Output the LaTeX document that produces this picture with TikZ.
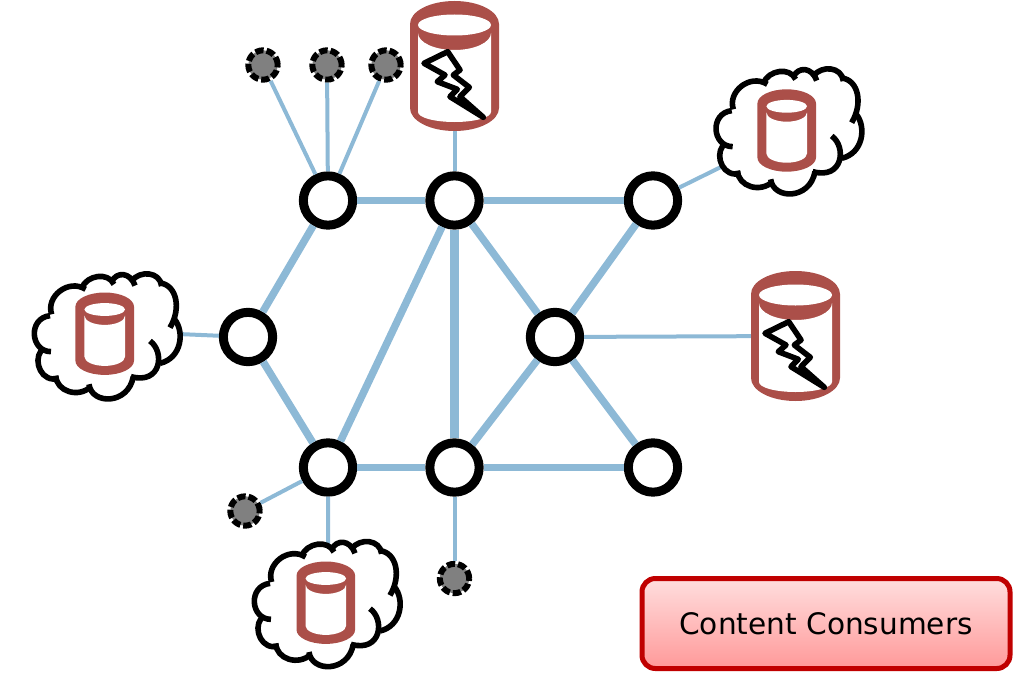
\documentclass[tikz,border=0pt]{standalone}
\usepackage{fontspec}
\setmainfont{DejaVu Sans}
\usetikzlibrary{shadows}
\definecolor{edgeblue}{HTML}{8DB9D6}
\definecolor{cylred}{HTML}{AB4F49}
\definecolor{btnred}{HTML}{C00000}
\tikzset{
  px/.style={x=0.75pt,y=-0.75pt},
  router/.style={circle,draw=black,fill=white,line width=6.75pt,minimum size=37pt,inner sep=0pt},
  leaf/.style={circle,draw=black,fill=black!50,line width=4.5pt,dash pattern=on 6.2pt off 2.2pt,minimum size=22pt,inner sep=0pt},
  anchorpt/.style={inner sep=0pt,minimum size=0pt},
  thick edge/.style={draw=edgeblue,line width=5.6pt},
  thicker edge/.style={draw=edgeblue,line width=6.4pt},
  thin edge/.style={draw=edgeblue,line width=3pt},
  bolt/.style={draw=black,line width=4.2pt,fill=white,line join=round},
  cloudline/.style={draw=black,line width=4.2pt,line cap=butt,line join=round},
  button/.style={draw=btnred,line width=3.75pt,rounded corners=10pt,top color=red!13!white,bottom color=red!40!white,
    minimum width=276pt,minimum height=67.5pt,inner sep=0pt,font=\fontsize{22.2}{27}\selectfont,text=black,
    drop shadow={shadow xshift=0.6pt,shadow yshift=-1.6pt,opacity=.3}},
  pics/bigcyl/.style={code={
    \fill[cylred] (-44.5,-42) arc[start angle=180,end angle=360,x radius=44.5,y radius=23] -- (44.5,42) arc[start angle=0,end angle=180,x radius=44.5,y radius=23] -- cycle;
    \fill[white] (0,-41) ellipse [x radius=36.5,y radius=10.5];
    \fill[white] (-36.5,-33) arc[start angle=180,end angle=0,x radius=36.5,y radius=17] -- (36.5,46) arc[start angle=0,end angle=180,x radius=36.5,y radius=10] -- cycle;
    \path[bolt] (-30.5,-2.7) -- (-6.8,-14.3) -- (5.5,4) -- (-1.2,9) -- (14.8,21.3) -- (5.5,30.7) -- (28.8,51.3) -- (-4.5,30.7) -- (2.8,23.3) -- (-17.2,15.7) -- (-9.5,9) -- cycle;
    }},
  pics/smallcyl/.style={code={
    \fill[cylred] (-29.3,-27) arc[start angle=180,end angle=360,x radius=29.3,y radius=14.2] -- (29.3,27) arc[start angle=0,end angle=180,x radius=29.3,y radius=14.2] -- cycle;
    \fill[white] (0,-24.2) ellipse [x radius=20.3,y radius=6.4];
    \fill[white] (-20.3,-18) arc[start angle=180,end angle=0,x radius=20.3,y radius=9.2] -- (20.3,23) arc[start angle=0,end angle=180,x radius=20.3,y radius=9.2] -- cycle;
    }},
  pics/puff/.style={code={
    \begin{scope}[x=0.25pt,y=-0.25pt,shift={(-270,-250)}]
    \fill[white] (60,340) -- (60,200) -- (130,90) -- (400,55) -- (480,120) -- (490,240) -- (430,325) -- (340,400) -- (270,445) -- (115,380) -- cycle;
    \draw[cloudline] (100,178) .. controls (82,125) and (150,70) .. (202,103);
    \draw[cloudline] (190,100) .. controls (205,60) and (270,50) .. (287,88);
    \draw[cloudline] (280,80) .. controls (295,50) and (335,50) .. (350,92);
    \draw[cloudline] (340,78) .. controls (365,45) and (425,50) .. (430,93);
    \draw[cloudline] (425,84) .. controls (475,90) and (490,160) .. (455,218);
    \draw[cloudline] (468,192) .. controls (500,230) and (490,310) .. (425,325);
    \draw[cloudline] (395,258) .. controls (440,290) and (430,390) .. (338,365);
    \draw[cloudline] (345,365) .. controls (330,450) and (220,450) .. (212,388);
    \draw[cloudline] (218,395) .. controls (180,430) and (115,410) .. (112,362);
    \draw[cloudline] (122,370) .. controls (70,385) and (44,320) .. (68,288);
    \draw[cloudline] (98,290) .. controls (36,290) and (28,190) .. (95,182);
    \end{scope}}},
}
\begin{document}
\begin{tikzpicture}[px]
\useasboundingbox (0,0) rectangle (1016,674);
% routers
\node[router] (r1) at (328,200.5) {};
\node[router] (r2) at (454.5,200.5) {};
\node[router] (r3) at (653,200.5) {};
\node[router] (r4) at (248,337) {};
\node[router] (r5) at (555,337) {};
\node[router] (r6) at (328,467.5) {};
\node[router] (r7) at (454.5,467.5) {};
\node[router] (r8) at (653,467.5) {};
% leaves
\node[leaf] (l1) at (263,65) {};
\node[leaf] (l2) at (327,65) {};
\node[leaf] (l3) at (386,65) {};
\node[leaf] (l4) at (245,511) {};
\node[leaf] (l5) at (454.5,578.5) {};
% attachment points
\node[anchorpt] (cTop) at (454.5,66) {};
\node[anchorpt] (cRight) at (795.5,336) {};
\node[anchorpt] (cloudA) at (790,133) {};
\node[anchorpt] (cloudB) at (108,331) {};
\node[anchorpt] (cloudC) at (328.3,606) {};
% connectors
\draw[thick edge] (r1) -- (r2);
\draw[thick edge] (r2) -- (r3);
\draw[thick edge] (r1) -- (r4);
\draw[thick edge] (r4) -- (r6);
\draw[thick edge] (r2) -- (r6);
\draw[thicker edge] (r2) -- (r7);
\draw[thick edge] (r2) -- (r5);
\draw[thick edge] (r3) -- (r5);
\draw[thick edge] (r5) -- (r7);
\draw[thick edge] (r5) -- (r8);
\draw[thick edge] (r6) -- (r7);
\draw[thick edge] (r7) -- (r8);
\draw[thin edge] (r1) -- (l1);
\draw[thin edge] (r1) -- (l2);
\draw[thin edge] (r1) -- (l3);
\draw[thin edge] (r6) -- (l4);
\draw[thin edge] (r7) -- (l5);
\draw[thin edge] (r2) -- (cTop);
\draw[thin edge] (r5) -- (cRight);
\draw[thin edge] (r3) -- (cloudA);
\draw[thin edge] (r4) -- (cloudB);
\draw[thin edge] (r6) -- (cloudC);
% stores
\pic at (cTop) {bigcyl};
\pic at (cRight) {bigcyl};
\pic at (790,133.3) {puff};
\pic at (786.7,130.5) {smallcyl};
\pic at (108.3,338.3) {puff};
\pic at (104.7,333.7) {smallcyl};
\pic at (328.3,606) {puff};
\pic at (325.8,602.7) {smallcyl};
% legend
\node[button] (legend) at (826,623.5) {\raisebox{-1pt}{Content Consumers}};
\end{tikzpicture}
\end{document}
